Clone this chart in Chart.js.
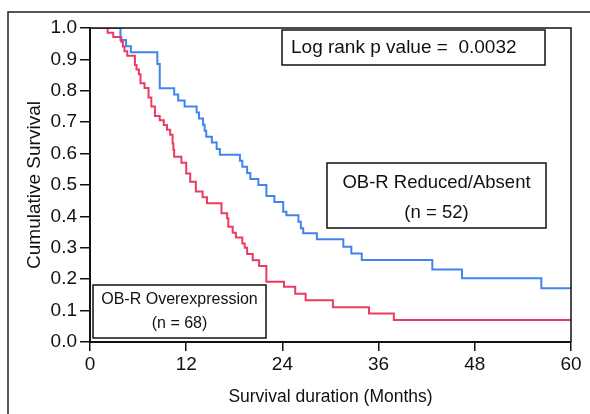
<!DOCTYPE html>
<html>
<head>
<meta charset="utf-8">
<script src="https://cdn.jsdelivr.net/npm/chart.js@4/dist/chart.umd.min.js"></script>
<style>
html,body{margin:0;padding:0;background:#fff;}
#wrap{width:590px;height:414px;position:relative;}
</style>
</head>
<body>
<div id="wrap"><canvas id="c" width="590" height="414"></canvas></div>
<script>
// ---- data ----
const xTicks = [0, 12, 24, 36, 48, 60];
const yTicks = [0, 0.1, 0.2, 0.3, 0.4, 0.5, 0.6, 0.7, 0.8, 0.9, 1.0];

const reducedName = 'OB-R Reduced/Absent';
const reducedN = 52;
const reducedTimes = [0, 3.8, 4.5, 5.1, 8.4, 8.7, 10.5, 11.0, 11.8, 13.3, 13.6, 14.1, 14.3, 14.5, 15.2, 15.8, 16.2, 18.7, 19.0, 19.6, 20.0, 21.0, 22.0, 23.0, 24.1, 24.5, 26.0, 26.3, 26.6, 28.3, 31.6, 32.6, 33.9, 42.7, 46.4, 56.3, 60];
const reducedSurv = [1, 0.962, 0.942, 0.923, 0.885, 0.808, 0.788, 0.769, 0.75, 0.731, 0.712, 0.692, 0.673, 0.654, 0.635, 0.615, 0.596, 0.577, 0.558, 0.538, 0.519, 0.5, 0.465, 0.446, 0.415, 0.404, 0.383, 0.362, 0.346, 0.327, 0.303, 0.282, 0.261, 0.231, 0.203, 0.171, 0.171];

const overName = 'OB-R Overexpression';
const overN = 68;
const overTimes = [0, 2.2, 2.9, 3.9, 4.1, 4.3, 4.65, 5.6, 5.8, 6.1, 6.3, 6.8, 7.3, 7.65, 8.1, 8.7, 9.2, 9.6, 10.0, 10.3, 10.4, 10.5, 11.4, 12.0, 12.5, 13.2, 14.05, 14.6, 16.4, 17.1, 17.25, 17.8, 18.2, 19.0, 19.3, 19.6, 20.3, 21.1, 22.0, 24.2, 25.6, 26.9, 30.3, 34.8, 37.9, 60];
const overSurv = [1, 0.985, 0.971, 0.956, 0.941, 0.926, 0.912, 0.882, 0.868, 0.853, 0.824, 0.809, 0.779, 0.75, 0.72, 0.706, 0.691, 0.676, 0.66, 0.632, 0.612, 0.59, 0.571, 0.537, 0.51, 0.479, 0.461, 0.442, 0.41, 0.394, 0.367, 0.348, 0.333, 0.314, 0.30, 0.28, 0.26, 0.242, 0.192, 0.176, 0.154, 0.133, 0.111, 0.091, 0.07, 0.07];

const pValueText = 'Log rank p value =  0.0032';
const xTitle = 'Survival duration (Months)';
const yTitle = 'Cumulative Survival';

// ---- build ----
function pts(t, s) { return t.map((v, i) => ({x: v, y: s[i]})); }
const FONT = "'Liberation Sans', Arial, sans-serif";
const INK = '#111';

const decor = {
  id: 'decor',
  afterDraw(chart) {
    const ctx = chart.ctx;
    const a = chart.chartArea;
    ctx.save();
    // outer frame
    ctx.strokeStyle = '#222';
    ctx.lineWidth = 1.5;
    ctx.beginPath();
    ctx.moveTo(8, 420); ctx.lineTo(8, 12); ctx.lineTo(600, 12);
    ctx.stroke();
    // plot frame top/right
    ctx.strokeStyle = '#111';
    ctx.lineWidth = 1.5;
    ctx.beginPath();
    ctx.moveTo(a.left, a.top); ctx.lineTo(a.right, a.top); ctx.lineTo(a.right, a.bottom);
    ctx.stroke();

    function box(x, y, w, h, lines, size, cx, ys, alignLeft) {
      ctx.fillStyle = '#fff';
      ctx.fillRect(x, y, w, h);
      ctx.strokeStyle = '#111';
      ctx.lineWidth = 1.5;
      ctx.strokeRect(x, y, w, h);
      ctx.fillStyle = INK;
      ctx.font = size + 'px ' + FONT;
      ctx.textBaseline = 'middle';
      ctx.textAlign = alignLeft ? 'left' : 'center';
      lines.forEach((l, i) => ctx.fillText(l, cx, ys[i]));
    }
    box(282, 30, 263, 35, [pValueText], 19, 291, [48], true);
    box(327, 163, 219, 65, [reducedName, '(n = ' + reducedN + ')'], 18.5, 436.5, [183, 213]);
    box(93, 285, 173, 53, [overName, '(n = ' + overN + ')'], 16, 179.5, [300, 324]);
    ctx.restore();
  }
};

new Chart(document.getElementById('c'), {
  type: 'line',
  data: {
    datasets: [
      {label: overName, data: pts(overTimes, overSurv), borderColor: '#ec3b61', borderWidth: 2, stepped: 'before', pointRadius: 0, fill: false},
      {label: reducedName, data: pts(reducedTimes, reducedSurv), borderColor: '#4184f0', borderWidth: 2, stepped: 'before', pointRadius: 0, fill: false}
    ]
  },
  options: {
    responsive: false,
    animation: false,
    events: [],
    layout: {padding: {left: 0, right: 19, top: 28, bottom: 0}},
    plugins: {legend: {display: false}, tooltip: {enabled: false}},
    scales: {
      x: {
        type: 'linear', min: 0, max: 60,
        afterFit(s) { s.height = 72; },
        afterBuildTicks(s) { s.ticks = xTicks.map(v => ({value: v})); },
        ticks: {color: INK, font: {family: FONT, size: 19}, padding: 2, maxRotation: 0, callback: v => String(v)},
        grid: {display: true, drawOnChartArea: false, drawTicks: true, tickLength: 9, color: '#111', lineWidth: 1.5},
        border: {display: true, color: '#111', width: 2},
        title: {display: true, text: xTitle, color: INK, font: {family: FONT, size: 17.5}, padding: {top: 0, bottom: 6}}
      },
      y: {
        type: 'linear', min: 0, max: 1,
        afterFit(s) { s.width = 90; },
        afterBuildTicks(s) { s.ticks = yTicks.map(v => ({value: v})); },
        ticks: {color: INK, font: {family: FONT, size: 19}, padding: 3, callback: v => Number(v).toFixed(1)},
        grid: {display: true, drawOnChartArea: false, drawTicks: true, tickLength: 10, color: '#111', lineWidth: 1.5},
        border: {display: true, color: '#111', width: 2},
        title: {display: true, text: yTitle, color: INK, font: {family: FONT, size: 19}, padding: {top: 23.6, bottom: 0}}
      }
    }
  },
  plugins: [decor]
});
</script>
</body>
</html>
